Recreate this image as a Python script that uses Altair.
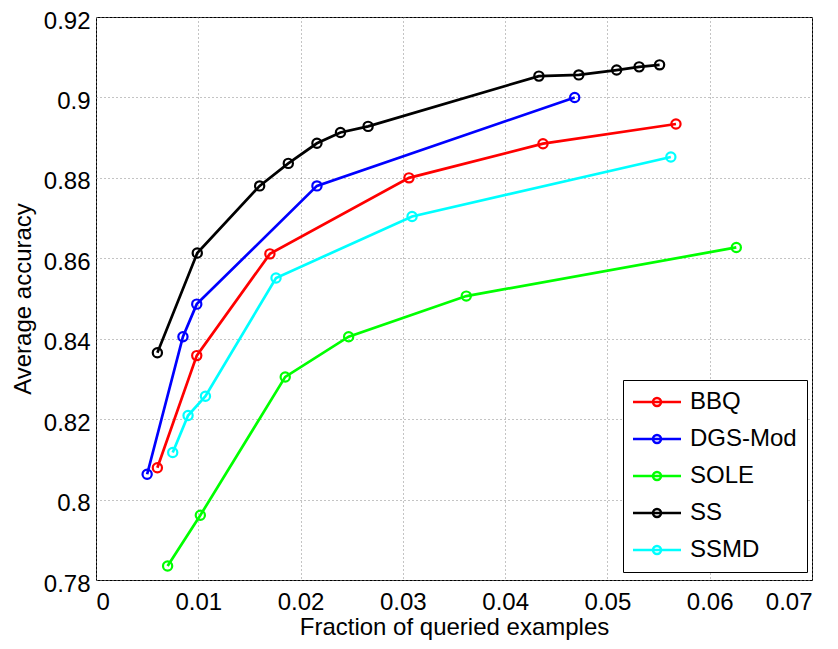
import altair as alt
import pandas as pd

# ---- data ----
bbq_x = [0.0060, 0.00985, 0.0170, 0.0306, 0.0437, 0.0567]
bbq_y = [0.8079, 0.8358, 0.8611, 0.8800, 0.8885, 0.8934]

dgs_x = [0.0050, 0.0085, 0.00985, 0.0216, 0.0468]
dgs_y = [0.8063, 0.8405, 0.8486, 0.8780, 0.9000]

sole_x = [0.0070, 0.0102, 0.0185, 0.0247, 0.0362, 0.0626]
sole_y = [0.7835, 0.7961, 0.8305, 0.8405, 0.8506, 0.8627]

ss_x = [0.0060, 0.0099, 0.0160, 0.0188, 0.0216, 0.0239, 0.0266, 0.0433, 0.0472, 0.0509, 0.0531, 0.0551]
ss_y = [0.8365, 0.8613, 0.8780, 0.8836, 0.8886, 0.8913, 0.8928, 0.9053, 0.9056, 0.9068, 0.9076, 0.9081]

ssmd_x = [0.0075, 0.0090, 0.0107, 0.0176, 0.0309, 0.0562]
ssmd_y = [0.8117, 0.8209, 0.8257, 0.8551, 0.8704, 0.8852]

series_names = ["BBQ", "DGS-Mod", "SOLE", "SS", "SSMD"]
series_colors = ["#ff0000", "#0000ff", "#00ff00", "#000000", "#00ffff"]
x_ticks = [0, 0.01, 0.02, 0.03, 0.04, 0.05, 0.06, 0.07]
y_ticks = [0.78, 0.80, 0.82, 0.84, 0.86, 0.88, 0.90, 0.92]

rows = []
for name, xs, ys in zip(series_names,
                        [bbq_x, dgs_x, sole_x, ss_x, ssmd_x],
                        [bbq_y, dgs_y, sole_y, ss_y, ssmd_y]):
    for i, (xv, yv) in enumerate(zip(xs, ys)):
        rows.append({"method": name, "x": xv, "y": yv, "order": i})
df = pd.DataFrame(rows)

FONT = "Liberation Sans"
legend_path = "M-2.4,0H2.4M-0.4,0A0.4,0.4,0,1,0,0.4,0A0.4,0.4,0,1,0,-0.4,0"

color = alt.Color(
    "method:N",
    scale=alt.Scale(domain=series_names, range=series_colors),
    legend=alt.Legend(
        title=None,
        orient="none",
        legendX=527,
        legendY=363,
        symbolType=legend_path,
        symbolSize=400,
        symbolStrokeWidth=2.5,
        symbolFillColor="transparent",
        symbolOffset=12,
        labelOffset=21,
        labelFont=FONT,
        labelFontSize=24,
        labelColor="#000000",
        rowPadding=13,
        padding=10,
        strokeColor="#000000",
        fillColor="#ffffff",
    ),
)

x_enc = alt.X(
    "x:Q",
    scale=alt.Scale(domain=[0, 0.07], nice=False, zero=False),
    axis=alt.Axis(
        title="Fraction of queried examples",
        values=x_ticks,
        labelExpr="format(datum.value, '~g')",
        labelPadding=10,
        titlePadding=1,
    ),
)
y_enc = alt.Y(
    "y:Q",
    scale=alt.Scale(domain=[0.78, 0.92], nice=False, zero=False),
    axis=alt.Axis(
        title="Average accuracy",
        values=y_ticks,
        labelExpr="format(datum.value, '~g')",
        labelPadding=6,
        labelOffset=4,
        labelBaseline="middle",
        titlePadding=8,
    ),
)

base = alt.Chart(df).encode(x=x_enc, y=y_enc, color=color, order="order:Q")

lines = base.mark_line(strokeWidth=2.7)
points = base.mark_point(shape="circle", filled=False, size=85, strokeWidth=2.2, opacity=1)

chart = (
    alt.layer(lines, points)
    .properties(
        width=716,
        height=563,
        padding={"left": 88, "top": 9, "right": 18, "bottom": 61},
        autosize=alt.AutoSizeParams(type="none"),
        background="#ffffff",
    )
    .configure_view(stroke="#000000", strokeWidth=1)
    .configure_axis(
        labelFont=FONT,
        titleFont=FONT,
        labelFontSize=24,
        titleFontSize=24,
        titleFontWeight="normal",
        labelColor="#000000",
        titleColor="#000000",
        domain=False,
        ticks=False,
        grid=True,
        gridColor="#888888",
        gridDash=[1, 3],
        gridWidth=1,
    )
)

chart.save("out.html", embed_options={"renderer": "svg", "actions": False})
